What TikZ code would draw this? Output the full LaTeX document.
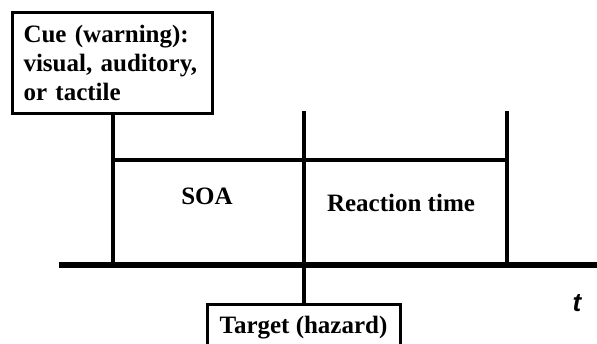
\documentclass[tikz,border=0pt]{standalone}
\usepackage{fontspec}
\setmainfont{Liberation Serif}
\newfontfamily\sansbi{Liberation Sans}
\begin{document}
\begin{tikzpicture}[x=1pt,y=-1pt,
  labelbox/.style={draw=black,line width=3pt,fill=white,font=\fontsize{25}{29}\selectfont\bfseries},
  tick/.style={line width=4pt},
  lbl/.style={font=\fontsize{25}{29}\selectfont\bfseries,inner sep=0pt}]
\useasboundingbox (0,0) rectangle (597,343);
% nodes
\node[labelbox,anchor=north west,minimum width=200pt,minimum height=101pt,text width=178pt,inner xsep=10pt,align=left] (cue) at (11,11) {Cue (warning):\\visual, auditory,\\or tactile};
\node[labelbox,anchor=north,minimum width=193pt,minimum height=46pt,inner sep=0pt] (target) at (303.5,303) {Target (hazard)};
\node[lbl] (soa) at (207,196) {SOA};
\node[lbl] (rt) at (401,203) {Reaction time};
\node[font=\fontsize{26}{28}\selectfont\sansbi\bfseries\itshape,inner sep=0pt] (t) at (577,303) {t};
% coordinates
\coordinate (axL) at (59,265);
\coordinate (axR) at (600,265);
\coordinate (cueB) at (cue.south |- axL);
\coordinate (midT) at (303.5,111);
\coordinate (rtT) at (506.5,111);
\coordinate (rtB) at (506.5,265);
\coordinate (hL) at (cue.south |- 0,159.5);
\coordinate (hR) at (506.5,159.5);
% lines
\draw[tick] (hL) -- (hR);
\draw[tick] (cue.south) -- (cueB);
\draw[tick] (midT) -- (target.north);
\draw[tick] (rtT) -- (rtB);
\draw[line width=6pt] (axL) -- (axR);
\end{tikzpicture}
\end{document}
